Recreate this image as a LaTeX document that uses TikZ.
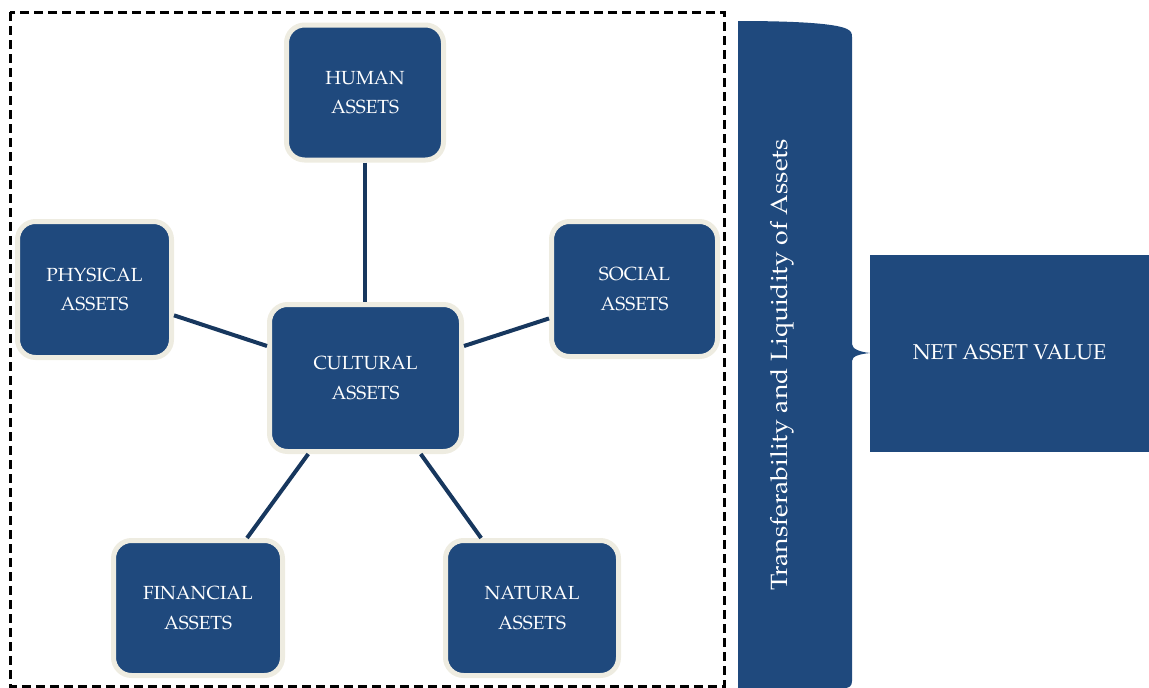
\documentclass[tikz,border=0pt]{standalone}
\usepackage[T1]{fontenc}
\usepackage{mathpazo}
\usepackage{graphicx}
\definecolor{assetblue}{HTML}{1F497D}
\definecolor{linknavy}{HTML}{17375E}
\definecolor{rimcream}{HTML}{EEECE1}
\begin{document}
\begin{tikzpicture}[x=1pt,y=-1pt,
  asset/.style={draw=rimcream, line width=5pt, fill=assetblue,
    rounded corners=18pt, text=white, align=center, inner sep=0pt,
    font=\fontsize{19}{29.5}\selectfont},
  link/.style={draw=linknavy, line width=4pt},
]
\useasboundingbox (0,0) rectangle (1149,688);

% frame around the asset network
\draw[black, line width=3pt, dash pattern=on 9pt off 5pt] (10,12) rectangle (724.5,686);

% asset boxes
\node[asset, minimum width=157pt, minimum height=135pt] (hum)  at (365,92.5)   {HUMAN\\ASSETS};
\node[asset, minimum width=154pt, minimum height=136pt] (phys) at (94.5,289.5) {PHYSICAL\\ASSETS};
\node[asset, minimum width=166pt, minimum height=135pt] (soc)  at (634.5,289)  {SOCIAL\\ASSETS};
\node[asset, minimum width=192pt, minimum height=147pt] (cult) at (365.5,378)  {CULTURAL\\ASSETS};
\node[asset, minimum width=169pt, minimum height=135pt] (fin)  at (198,608)    {FINANCIAL\\ASSETS};
\node[asset, minimum width=173pt, minimum height=135pt] (nat)  at (532,608)    {NATURAL\\ASSETS};

% links to the central box
\draw[link] (hum.south) -- (hum.south |- cult.north);
\draw[link] (phys.-18) -- (cult.162);
\draw[link] (soc.199) -- (cult.18);
\draw[link] (fin.55) -- (cult.-127);
\draw[link] (nat.126) -- (cult.-54);

% brace gathering the assets
\fill[assetblue] (738,21) .. controls (790,21) and (835,23) .. (847,29)
  .. controls (851,31) and (852,33) .. (852,37) -- (852,344)
  .. controls (852,349) and (860,352) .. (870,353)
  .. controls (860,354) and (852,356) .. (852,361) -- (852,681)
  .. controls (852,686) and (849,688) .. (845,688) -- (738,688) -- cycle;
\node[rotate=90, anchor=base, text=white, inner sep=0pt,
  font=\fontsize{23.5}{28}\selectfont] (liq) at (787,365)
  {\scalebox{1.13}[1]{Transferability and Liquidity of Assets}};

% result box
\node[fill=assetblue, minimum width=279pt, minimum height=197pt, inner sep=0pt,
  outer sep=0pt, text=white, font=\fontsize{21.5}{25}\selectfont] (nav)
  at (1009.5,353.5) {\raisebox{3pt}{NET ASSET VALUE}};
\end{tikzpicture}
\end{document}
